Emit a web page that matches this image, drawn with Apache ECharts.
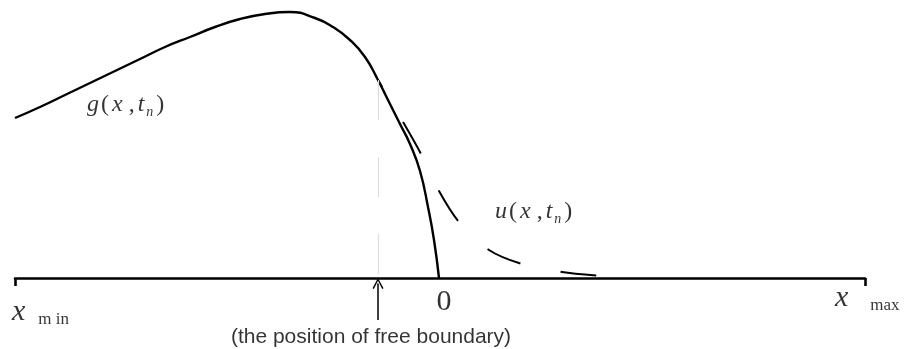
<!DOCTYPE html>
<html>
<head>
<meta charset="utf-8">
<script src="https://cdn.jsdelivr.net/npm/echarts@6/dist/echarts.min.js"></script>
<style>
  html, body { margin: 0; padding: 0; background: #fff; }
  #main { width: 905px; height: 349px; }
</style>
</head>
<body>
<div id="main"></div>
<script>
// x runs from x_min to x_max, 0 is the fixed origin on the axis
var xMin = -4.24;
var xMax = 4.26;
var freeBoundary = -0.61;

// obstacle g(x, t_n), solid
var gX = [-4.24, -3.99, -3.74, -3.49, -3.24, -2.99, -2.74, -2.49, -2.24, -1.99, -1.74, -1.49, -1.24, -1.06, -0.89, -0.74, -0.61, -0.51, -0.39, -0.29, -0.19, -0.11, -0.05, 0];
var gY = [1.60, 1.71, 1.83, 1.95, 2.07, 2.19, 2.31, 2.41, 2.51, 2.59, 2.64, 2.66, 2.60, 2.51, 2.38, 2.21, 1.98, 1.78, 1.54, 1.34, 1.07, 0.71, 0.38, 0];

// solution u(x, t_n), dashed, leaves g at the free boundary
var uX = [-0.61, -0.36, -0.18, 0, 0.20, 0.50, 0.83, 1.23, 1.62];
var uY = [1.98, 1.56, 1.24, 0.87, 0.56, 0.28, 0.14, 0.06, 0.02];

// text annotations
var annoText = [
  '{i|g}{r|(}{x|x}{c|,}{i|t}{s|n}{r|)}',
  '{i|u}{r|(}{x|x}{c|,}{i|t}{s|n}{r|)}',
  '0',
  '{x|x}{s|m in}',
  '{x|x}{s|max}',
  '(the position of free boundary)'
];
var annoX = [-3.52, 0.56, 0.05, -4.27, 3.96, -0.68];
var annoY = [1.73, 0.66, -0.24, -0.34, -0.20, -0.59];
var annoKind = ['func', 'func', 'zero', 'xmin', 'xmax', 'note'];

var serif = '"Liberation Serif", "Times New Roman", serif';
var sans = '"Liberation Sans", Arial, sans-serif';

function funcRich() {
  var base = { fontFamily: serif, fontSize: 24, lineHeight: 28, color: '#000' };
  return {
    i: Object.assign({}, base, { fontStyle: 'italic', padding: [0, 2, 0, 0] }),
    x: Object.assign({}, base, { fontStyle: 'italic', padding: [0, 6, 0, 1] }),
    c: Object.assign({}, base, { padding: [0, 3, 0, 0] }),
    r: Object.assign({}, base, { padding: [0, 2, 0, 0] }),
    s: { fontFamily: serif, fontStyle: 'italic', fontSize: 14, lineHeight: 11, verticalAlign: 'bottom', padding: [0, 3, 0, 0], color: '#000' }
  };
}

function endRich(gap) {
  return {
    x: { fontFamily: serif, fontStyle: 'italic', fontSize: 30, lineHeight: 32, color: '#000' },
    s: { fontFamily: serif, fontSize: 17, lineHeight: 14, padding: [0, 0, 0, gap], verticalAlign: 'bottom', color: '#000' }
  };
}

var labelStyles = {
  func: { align: 'left', rich: funcRich() },
  zero: { align: 'center', fontFamily: serif, fontSize: 30 },
  xmin: { align: 'left', rich: endRich(13) },
  xmax: { align: 'left', rich: endRich(22) },
  note: { align: 'center', fontFamily: sans, fontSize: 21 }
};

function pairs(xs, ys) {
  return xs.map(function (x, i) { return [x, ys[i]]; });
}

var annoData = annoText.map(function (t, i) {
  return {
    value: [annoX[i], annoY[i]],
    label: Object.assign({
      show: true,
      position: [0, 0],
      verticalAlign: 'middle',
      color: '#000',
      textBorderWidth: 0,
      formatter: t
    }, labelStyles[annoKind[i]])
  };
});

var myChart = echarts.init(document.getElementById('main'));
myChart.setOption({
  animation: false,
  grid: { left: 15, right: 40, top: 0, bottom: 0 },
  xAxis: {
    type: 'value',
    min: xMin,
    max: xMax,
    axisLine: { show: true, onZero: true, lineStyle: { color: '#000', width: 2.6 } },
    axisTick: { show: true, length: 8, customValues: [xMin, xMax], lineStyle: { color: '#000', width: 2.6 } },
    axisLabel: { show: false },
    splitLine: { show: false }
  },
  yAxis: {
    type: 'value',
    min: -0.71,
    max: 2.78,
    show: false
  },
  series: [
    {
      name: 'g',
      type: 'line',
      data: pairs(gX, gY),
      smooth: 0.5,
      showSymbol: false,
      lineStyle: { color: '#000', width: 2.4 },
      z: 3,
      markLine: {
        silent: true,
        symbol: ['none', 'none'],
        label: { show: false },
        data: [
          [
            { coord: [freeBoundary, 1.98], lineStyle: { color: '#dcdcdc', width: 1.2, type: [40, 37] } },
            { coord: [freeBoundary, 0] }
          ],
          [
            { coord: [freeBoundary, -0.42], symbol: 'none', lineStyle: { color: '#000', width: 1.5, type: 'solid' } },
            { coord: [freeBoundary, -0.055], symbol: 'path://M0,10 L5,0 L10,10 L8.8,10.8 L5,2.6 L1.2,10.8 Z', symbolSize: [11, 11] }
          ]
        ]
      }
    },
    {
      name: 'u',
      type: 'line',
      data: pairs(uX, uY),
      smooth: 0.3,
      showSymbol: false,
      lineStyle: { color: '#000', width: 2, type: [36, 41], dashOffset: 28 },
      z: 2
    },
    {
      name: 'labels',
      type: 'scatter',
      data: annoData,
      symbolSize: 0,
      silent: true,
      clip: false,
      z: 5
    }
  ]
});
</script>
</body>
</html>
